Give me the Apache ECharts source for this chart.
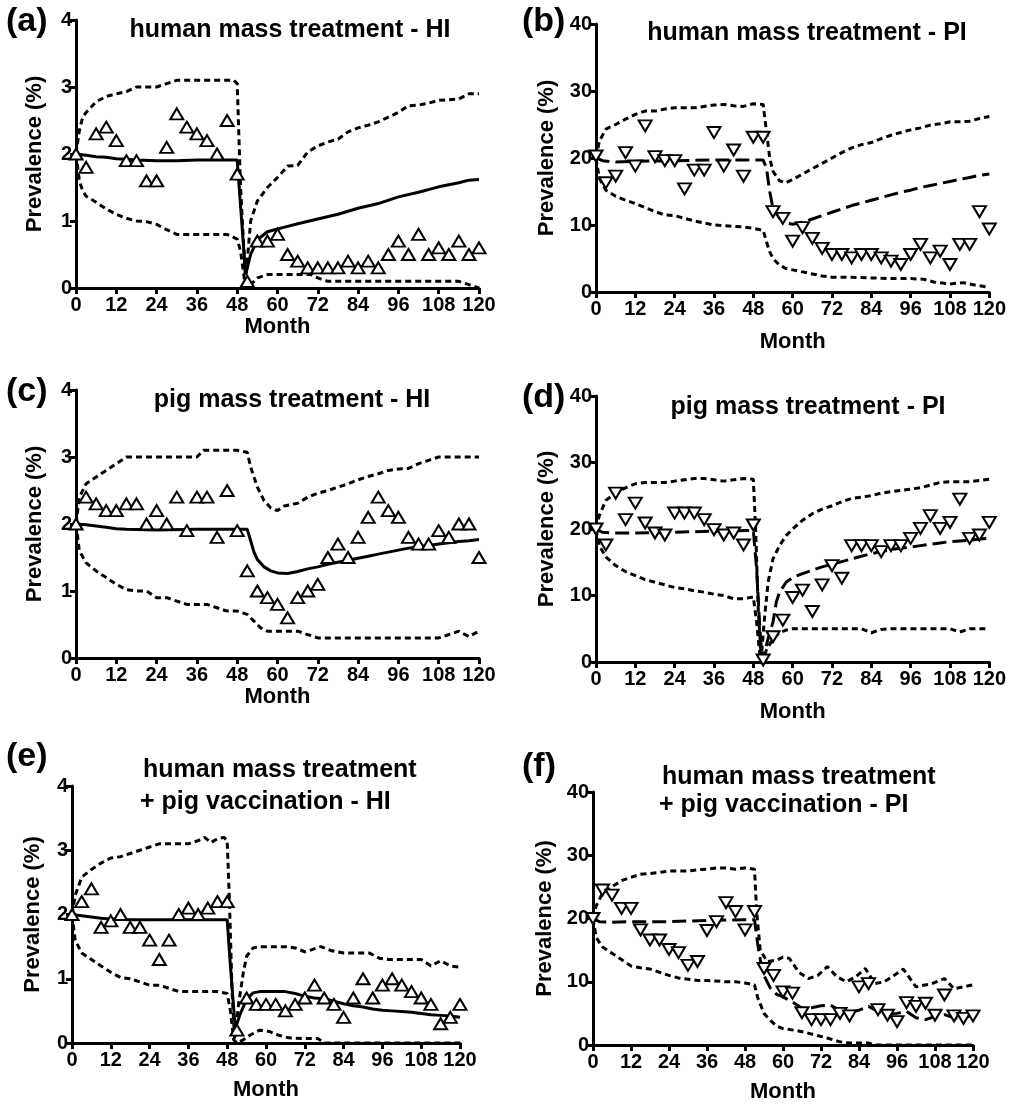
<!DOCTYPE html>
<html><head><meta charset="utf-8">
<script src="https://cdn.jsdelivr.net/npm/echarts@6/dist/echarts.min.js"></script>
<style>html,body{margin:0;padding:0;background:#fff}#c{width:1009px;height:1104px}</style>
</head><body><div id="c"></div>
<script>
// ---------- data ----------
const MONTHS = [0,3,6,9,12,15,18,21,24,27,30,33,36,39,42,45,48,51,54,57,60,63,66,69,72,75,78,81,84,87,90,93,96,99,102,105,108,111,114,117,120];
const X_TICKS = [0,12,24,36,48,60,72,84,96,108,120];

// (a) human mass treatment - HI
const OBS_A = [2.0,1.8,2.3,2.4,2.2,1.9,1.9,1.6,1.6,2.1,2.6,2.4,2.3,2.2,2.0,2.5,1.7,0.1,0.7,0.7,0.8,0.5,0.4,0.3,0.3,0.3,0.3,0.4,0.3,0.4,0.3,0.5,0.7,0.5,0.8,0.5,0.6,0.5,0.7,0.5,0.6];
const MEAN_A = [[0,2.0],[3,1.98],[6,1.96],[9,1.95],[12,1.93],[15,1.92],[18,1.91],[24,1.9],[30,1.9],[36,1.91],[42,1.91],[48,1.91],[50.5,0.2],[52,0.5],[54,0.72],[57,0.84],[60,0.88],[63,0.92],[66,0.96],[72,1.03],[78,1.1],[84,1.19],[90,1.26],[96,1.36],[102,1.43],[108,1.51],[114,1.57],[117,1.61],[120,1.62]];
const UP_A = [[0,2.0],[1,2.35],[2,2.55],[3,2.62],[6,2.78],[9,2.86],[12,2.9],[15,2.93],[18,3.0],[24,3.0],[27,3.05],[30,3.1],[36,3.1],[42,3.1],[47,3.1],[48,3.05],[49,1.5],[50.5,0.1],[52,1.0],[54,1.3],[57,1.5],[60,1.65],[63,1.82],[66,1.83],[69,2.03],[72,2.12],[75,2.18],[78,2.22],[81,2.33],[84,2.39],[87,2.43],[90,2.48],[93,2.55],[96,2.62],[99,2.72],[102,2.73],[105,2.76],[108,2.8],[111,2.81],[114,2.82],[117,2.9],[120,2.9]];
const LO_A = [[0,2.0],[1,1.6],[2,1.45],[3,1.37],[6,1.28],[9,1.18],[12,1.1],[15,1.04],[18,1.0],[21,0.99],[24,0.95],[27,0.87],[30,0.8],[36,0.8],[42,0.8],[45,0.8],[48,0.73],[49,0.55],[50.5,0.0],[52,0.05],[54,0.15],[57,0.2],[60,0.2],[66,0.2],[70,0.2],[72,0.15],[75,0.1],[84,0.1],[96,0.1],[108,0.1],[114,0.1],[117,0.05],[120,0.0]];

// (b) human mass treatment - PI
const OBS_B = [20.3,16.3,17.3,20.8,18.8,24.8,20.2,19.6,19.6,15.4,18.2,18.2,23.8,18.8,21.2,17.3,23.1,23.1,12.0,11.0,7.6,9.6,8.0,6.5,5.6,5.6,5.1,5.6,5.6,5.1,4.6,4.1,5.6,7.1,5.1,6.1,4.1,7.1,7.1,12.0,9.4];
const MEAN_B = [[0,20],[2,19.6],[6,19.4],[12,19.5],[24,19.6],[36,19.7],[48,19.7],[51,19.7],[52,18.5],[53,15],[54,12.5],[56,11],[58,10.3],[60,10.1],[63,10.4],[66,10.9],[69,11.4],[72,11.9],[75,12.4],[78,12.9],[81,13.3],[84,13.7],[87,14.1],[90,14.5],[93,14.9],[96,15.2],[99,15.6],[102,15.9],[105,16.2],[108,16.5],[111,16.8],[114,17.1],[117,17.4],[120,17.6]];
const UP_B = [[0,20],[1,22.5],[3,24.3],[6,25],[9,25.8],[12,26.5],[15,27],[18,27],[21,27.3],[24,27.5],[30,27.5],[36,27.9],[39,28],[42,27.8],[45,27.7],[48,28.1],[51,28],[52,24],[53,20],[54,18],[56,16.6],[58,16.3],[60,16.8],[63,17.6],[66,18.4],[69,19.2],[72,20],[75,20.8],[78,21.5],[81,22],[84,22.3],[87,22.9],[90,23.4],[93,23.8],[96,24.2],[99,24.5],[102,24.9],[105,25.1],[108,25.4],[111,25.4],[114,25.5],[117,25.9],[120,26.2]];
const LO_B = [[0,20],[1,17],[3,15.2],[6,14.3],[9,13.7],[12,13.2],[15,12.6],[18,12],[21,11.5],[24,11.4],[27,11],[30,10.6],[33,10.3],[36,10],[39,9.9],[42,9.8],[45,9.7],[48,9.5],[51,9.2],[52,7.5],[53,6],[54,5],[56,4],[58,3.5],[60,3.3],[63,3],[66,2.7],[69,2.4],[72,2.2],[78,2.2],[84,2.1],[90,2.0],[96,2.0],[100,1.9],[103,1.5],[108,1.2],[112,1.4],[116,1.0],[120,0.7]];

// (c) pig mass treatment - HI
const OBS_C = [2.0,2.4,2.3,2.2,2.2,2.3,2.3,2.0,2.2,2.0,2.4,1.9,2.4,2.4,1.8,2.5,1.9,1.3,1.0,0.9,0.8,0.6,0.9,1.0,1.1,1.5,1.7,1.5,1.8,2.1,2.4,2.2,2.1,1.8,1.7,1.7,1.9,1.8,2.0,2.0,1.5];
const MEAN_C = [[0,2.0],[3,1.99],[6,1.97],[9,1.95],[12,1.93],[15,1.92],[24,1.91],[36,1.92],[48,1.92],[51,1.92],[52,1.75],[53,1.58],[54,1.47],[56,1.36],[58,1.3],[60,1.27],[63,1.26],[66,1.29],[69,1.33],[72,1.36],[75,1.4],[78,1.43],[81,1.46],[84,1.49],[87,1.52],[90,1.55],[93,1.58],[96,1.61],[99,1.64],[102,1.66],[105,1.68],[108,1.7],[111,1.72],[114,1.74],[117,1.75],[120,1.77]];
const UP_C = [[0,2.0],[1,2.4],[3,2.6],[6,2.7],[9,2.8],[12,2.9],[15,3.0],[18,3.0],[24,3.0],[30,3.0],[36,3.0],[38,3.1],[42,3.1],[48,3.1],[51,3.07],[52,2.85],[54,2.55],[56,2.35],[58,2.24],[60,2.2],[62,2.27],[66,2.31],[69,2.4],[72,2.46],[75,2.5],[78,2.55],[81,2.6],[84,2.66],[87,2.71],[90,2.75],[93,2.8],[96,2.82],[99,2.83],[102,2.9],[105,2.95],[108,3.0],[120,3.0]];
const LO_C = [[0,2.0],[1,1.6],[3,1.42],[6,1.3],[9,1.2],[12,1.1],[15,1.02],[18,1.0],[21,1.0],[24,0.9],[27,0.9],[30,0.85],[33,0.8],[39,0.8],[42,0.75],[45,0.7],[48,0.7],[51,0.65],[53,0.55],[55,0.45],[57,0.4],[66,0.4],[69,0.35],[72,0.3],[108,0.3],[111,0.35],[114,0.4],[117,0.32],[120,0.4]];

// (d) pig mass treatment - PI
const OBS_D = [20.0,17.6,25.4,21.4,23.9,20.9,19.4,19.1,22.4,22.4,22.4,21.4,19.9,19.1,19.4,17.6,20.6,0.3,3.8,6.3,9.7,10.8,7.6,11.6,14.5,12.6,17.5,17.5,17.5,16.6,17.5,17.5,18.6,20.1,22.0,20.1,21.0,24.5,18.6,19.1,21.0];
const MEAN_D = [[0,20],[2,19.5],[6,19.4],[12,19.4],[24,19.5],[36,19.7],[48,19.8],[49,14],[50,5],[50.7,0.5],[51.5,1.5],[52.5,3.5],[54,6],[55,9],[56,10.5],[58,12],[60,12.7],[63,13.3],[66,13.8],[69,14.3],[72,14.7],[75,15.1],[78,15.5],[81,15.9],[84,16.3],[87,16.6],[90,16.9],[93,17.1],[96,17.3],[99,17.5],[102,17.7],[105,17.9],[108,18.1],[111,18.2],[114,18.3],[117,18.5],[120,18.6]];
const UP_D = [[0,20],[1,22],[3,24.3],[6,25.4],[9,26.2],[12,26.8],[15,27],[21,27],[24,27.2],[27,27.4],[30,27.6],[33,27.6],[36,27.4],[39,27.2],[42,27.4],[45,27.6],[48,27.5],[48.7,20],[49.5,8],[50.4,0.5],[51.3,6],[52.5,12],[54,15.5],[56,17.5],[58,19],[60,20],[63,21.3],[66,22.3],[69,23],[72,23.5],[75,24.1],[78,24.6],[81,24.8],[84,25],[87,25.4],[90,25.6],[93,25.8],[96,26],[99,26.2],[102,26.6],[105,27],[108,27.1],[111,27.1],[114,27.1],[117,27.3],[120,27.5]];
const LO_D = [[0,20],[1,17.5],[3,15.8],[6,14.5],[9,13.6],[12,13],[15,12.4],[18,12],[21,11.6],[24,11.2],[27,11],[30,10.7],[33,10.5],[36,10.2],[39,10],[42,9.5],[45,9.5],[48,9.8],[49,6],[50,1],[50.6,0],[52,1.8],[54,3.5],[56,4.4],[58,4.8],[60,5],[81,5],[84,4.4],[87,4.9],[90,5],[108,5],[111,4.5],[114,5],[120,5]];

// (e) human mass treatment + pig vaccination - HI
const OBS_E = [2.0,2.2,2.4,1.8,1.9,2.0,1.8,1.8,1.6,1.3,1.6,2.0,2.1,2.0,2.1,2.2,2.2,0.2,0.7,0.6,0.6,0.6,0.5,0.6,0.7,0.9,0.7,0.6,0.4,0.7,1.0,0.7,0.9,1.0,0.9,0.8,0.7,0.6,0.3,0.4,0.6];
const MEAN_E = [[0,2.0],[3,1.98],[6,1.96],[9,1.94],[12,1.93],[18,1.92],[24,1.92],[36,1.92],[48,1.92],[49,1.2],[50.5,0.22],[52,0.45],[54,0.68],[56,0.78],[58,0.8],[66,0.8],[69,0.77],[72,0.73],[75,0.7],[78,0.69],[81,0.65],[84,0.61],[87,0.58],[90,0.56],[93,0.53],[96,0.51],[99,0.5],[102,0.49],[105,0.48],[108,0.46],[111,0.44],[114,0.43],[117,0.42],[120,0.4]];
const UP_E = [[0,2.0],[1,2.3],[3,2.58],[6,2.7],[9,2.8],[12,2.88],[15,2.9],[18,2.95],[21,3.0],[24,3.05],[27,3.1],[36,3.1],[39,3.15],[41,3.2],[43,3.12],[45,3.18],[47,3.2],[48,3.15],[48.7,2.2],[49.5,0.8],[50.3,0.05],[51.5,0.6],[53,1.1],[54,1.35],[56,1.48],[58,1.5],[66,1.5],[69,1.48],[72,1.42],[74,1.45],[77,1.5],[80,1.44],[84,1.4],[92,1.4],[95,1.32],[98,1.3],[108,1.3],[111,1.2],[114,1.28],[117,1.2],[120,1.18]];
const LO_E = [[0,2.0],[1,1.6],[3,1.4],[6,1.3],[9,1.2],[12,1.1],[15,1.02],[18,1.0],[21,0.95],[24,0.9],[27,0.9],[30,0.85],[33,0.8],[45,0.8],[48,0.77],[49,0.5],[50,0.05],[51,0],[53,0.05],[55,0.12],[58,0.2],[61,0.18],[64,0.12],[67,0.08],[72,0.07],[76,0.07],[78,0.0],[120,0.0]];

// (f) human mass treatment + pig vaccination - PI
const OBS_F = [20.0,24.5,23.7,21.6,21.6,18.2,16.6,16.6,15.1,14.6,12.6,13.2,18.1,19.5,22.5,21.1,18.2,21.1,12.1,11.0,8.4,8.2,5.1,4.0,4.0,4.0,5.0,4.6,9.2,9.7,5.6,4.7,3.7,6.7,6.1,6.6,4.7,7.9,4.6,4.2,4.6];
const MEAN_F = [[0,20],[2,19.5],[6,19.4],[12,19.5],[24,19.5],[36,19.7],[48,19.8],[51,19.8],[52,16],[53,13],[54,11],[56,9],[58,8],[60,7.6],[63,6.8],[66,5.8],[69,5.9],[72,6.2],[75,6.3],[78,5.5],[81,5.2],[84,5.5],[87,6.1],[90,5.3],[93,4.9],[96,5.0],[99,5.3],[102,4.3],[105,4.0],[108,4.5],[111,4.8],[114,4.3],[117,4.2],[120,4.8]];
const UP_F = [[0,20],[1,22],[3,24],[6,25],[9,26],[12,26.5],[15,27],[18,27.1],[21,27.3],[24,27.5],[30,27.5],[33,27.7],[36,27.8],[39,28],[42,28],[45,27.8],[48,28],[51,27.8],[51.7,21],[52.8,15],[55,13.2],[58,13.4],[60,13.9],[62,13.7],[65,11.5],[68,10.5],[71,11],[74,12.4],[77,10.8],[80,10],[83,10.8],[86,12.1],[89,9.7],[92,10],[95,11],[98,12],[102,9.2],[107,9.7],[111,10.5],[114,8.9],[117,9.2],[120,9.5]];
const LO_F = [[0,20],[1,17],[3,15.5],[6,14.5],[9,13.5],[12,12.5],[15,12.2],[18,12],[21,11.5],[24,11],[27,10.6],[30,10.4],[33,10.2],[36,10.2],[39,10.1],[42,10],[45,10],[48,9.8],[51,9.5],[52,7.5],[54,5],[56,3.9],[58,3],[60,2.6],[64,2.3],[67,2],[70,1.6],[74,1.1],[78,0.5],[81,0.3],[87,0.3],[89,0],[120,0]];

const PANEL_LABELS = ['(a)','(b)','(c)','(d)','(e)','(f)'];
const TITLES = ['human mass treatment - HI','human mass treatment - PI','pig mass treatment - HI','pig mass treatment - PI'];
const TITLE_E = ['human mass treatment','+ pig vaccination - HI'];
const TITLE_F = ['human mass treatment','+ pig vaccination - PI'];
const Y_NAME = 'Prevalence (%)';
const X_NAME = 'Month';

// ---------- layout ----------
const FONT = "'Liberation Sans', Arial, Helvetica, sans-serif";
const PANELS = [
  {g:{left:76, top:20, width:403, height:268}, ymax:4, yint:1, obs:OBS_A, mean:MEAN_A, up:UP_A, lo:LO_A, pi:false, xGap:27, yGap:30},
  {g:{left:596, top:24, width:396, height:268}, ymax:40, yint:10, obs:OBS_B, mean:MEAN_B, up:UP_B, lo:LO_B, pi:true, xGap:39, yGap:38},
  {g:{left:76, top:390, width:403, height:268}, ymax:4, yint:1, obs:OBS_C, mean:MEAN_C, up:UP_C, lo:LO_C, pi:false, xGap:27, yGap:30},
  {g:{left:596, top:396, width:396, height:266}, ymax:40, yint:10, obs:OBS_D, mean:MEAN_D, up:UP_D, lo:LO_D, pi:true, xGap:39, yGap:38},
  {g:{left:72, top:786, width:388, height:257}, ymax:4, yint:1, obs:OBS_E, mean:MEAN_E, up:UP_E, lo:LO_E, pi:false, xGap:36, yGap:28},
  {g:{left:593, top:792, width:380, height:253}, ymax:40, yint:10, obs:OBS_F, mean:MEAN_F, up:UP_F, lo:LO_F, pi:true, xGap:36, yGap:37}
];
const LABEL_POS = [[6,22],[522,22],[6,392],[522,398],[6,757],[522,767]];
const TITLE_POS = [[290,30],[807,33],[292,400],[808,407]];

const grid=[], xAxis=[], yAxis=[], series=[], title=[];
const axisLine = {show:true, onZero:false, lineStyle:{color:'#000', width:3}};
const axisTick = {show:true, length:6, inside:false, lineStyle:{color:'#000', width:3}};
const lblStyle = {color:'#000', fontSize:20, fontWeight:'bold', fontFamily:FONT};
const nameStyle = {color:'#000', fontSize:22, fontWeight:'bold', fontFamily:FONT};

PANELS.forEach((p,i)=>{
  grid.push(Object.assign({containLabel:false}, p.g));
  xAxis.push({type:'value', gridIndex:i, min:0, max:120, interval:12,
    axisLine, axisTick, splitLine:{show:false},
    axisLabel:Object.assign({margin:7, formatter:v=>X_TICKS.includes(v)?String(v):''}, lblStyle),
    name:X_NAME, nameLocation:'middle', nameGap:p.xGap, nameTextStyle:nameStyle});
  yAxis.push({type:'value', gridIndex:i, min:0, max:p.ymax, interval:p.yint,
    axisLine, axisTick, splitLine:{show:false},
    axisLabel:Object.assign({margin:4}, lblStyle),
    name:Y_NAME, nameLocation:'middle', nameGap:p.yGap, nameRotate:90, nameTextStyle:nameStyle});
  const dash = p.pi ? [14,6] : 'solid';
  [[p.up,[6,4]],[p.lo,[6,4]],[p.mean,dash]].forEach(([d,t])=>{
    series.push({type:'line', xAxisIndex:i, yAxisIndex:i, data:d, showSymbol:false, silent:true,
      lineStyle:{color:'#000', width:3, type:t}, z:3});
  });
  series.push({type:'scatter', xAxisIndex:i, yAxisIndex:i, silent:true,
    data:MONTHS.map((m,k)=>[m,p.obs[k]]),
    symbol:'triangle', symbolSize:[13,11], symbolRotate:p.pi?180:0,
    itemStyle:{color:'#fff', borderColor:'#000', borderWidth:2, opacity:1}, z:5});
  title.push({text:PANEL_LABELS[i], left:LABEL_POS[i][0], top:LABEL_POS[i][1], padding:0,
    textAlign:'left', textVerticalAlign:'middle',
    textStyle:{color:'#000', fontSize:34, fontWeight:'bold', fontFamily:FONT}});
});
const titleStyle = {color:'#000', fontSize:25, fontWeight:'bold', fontFamily:FONT};
TITLES.forEach((t,i)=>{
  title.push({text:t, left:TITLE_POS[i][0], top:TITLE_POS[i][1], padding:0, textAlign:'center', textVerticalAlign:'middle', textStyle:titleStyle});
});
[[TITLE_E,143,770,802],[TITLE_F,662,777,805]].forEach(([lines,x,y1,y2])=>{
  title.push({text:lines[0], left:x, top:y1, padding:0, textAlign:'left', textVerticalAlign:'middle', textStyle:titleStyle});
  title.push({text:lines[1], left:x-3, top:y2, padding:0, textAlign:'left', textVerticalAlign:'middle', textStyle:titleStyle});
});

const chart = echarts.init(document.getElementById('c'), null, {renderer:'canvas'});
chart.setOption({animation:false, backgroundColor:'#fff', grid, xAxis, yAxis, series, title});
</script></body></html>
